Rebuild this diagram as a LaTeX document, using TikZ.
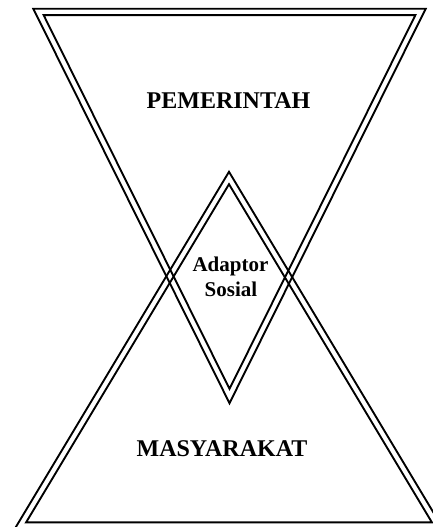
\documentclass[tikz,border=0pt]{standalone}
\usepackage{fontspec}
\setmainfont{Liberation Serif}
\begin{document}
\begin{tikzpicture}[x=1pt,y=-1pt,
  edge/.style={line width=1.9pt, line join=miter},
  biglbl/.style={font=\bfseries\fontsize{24}{28}\selectfont, anchor=base, inner sep=0pt},
  smalllbl/.style={font=\bfseries\fontsize{21}{25}\selectfont, anchor=base, inner sep=0pt}]
\useasboundingbox (0,0) rectangle (433,527);
\clip (0,0) rectangle (433,527);
% top (inverted) triangle: outer and inner line
\coordinate (tAo) at (33.33,8.8);
\coordinate (tBo) at (425.67,8.8);
\coordinate (tCo) at (229.5,403.19);
\coordinate (tAi) at (43.67,15.2);
\coordinate (tBi) at (415.33,15.2);
\coordinate (tCi) at (229.5,388.81);
\draw[edge] (tAo) -- (tBo) -- (tCo) -- cycle;
\draw[edge] (tAi) -- (tBi) -- (tCi) -- cycle;
% bottom triangle: outer and inner line
\coordinate (bPo) at (229,171.78);
\coordinate (bQo) at (14.85,528.7);
\coordinate (bRo) at (443.15,528.7);
\coordinate (bPi) at (229,184.22);
\coordinate (bQi) at (26.15,522.3);
\coordinate (bRi) at (431.85,522.3);
\draw[edge] (bPo) -- (bQo) -- (bRo) -- cycle;
\draw[edge] (bPi) -- (bQi) -- (bRi) -- cycle;
% labels
\node[biglbl] (pem) at (228.5,108) {PEMERINTAH};
\node[biglbl] (mas) at (222,456.7) {MASYARAKAT};
\node[smalllbl] (ad1) at (230.5,271) {Adaptor};
\node[smalllbl] (ad2) at (231,296) {Sosial};
\end{tikzpicture}
\end{document}
